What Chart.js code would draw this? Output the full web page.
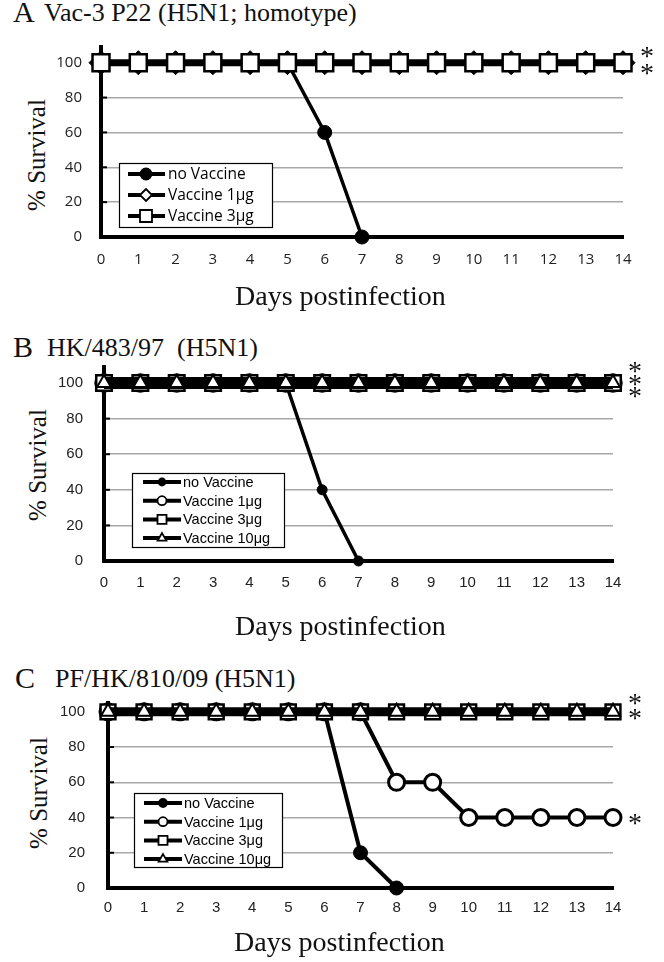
<!DOCTYPE html>
<html lang="en">
<head>
<meta charset="UTF-8">
<title>Survival after H5N1 challenge</title>
<script src="https://cdn.jsdelivr.net/npm/chart.js"></script>
<style>
  body { margin: 0; width: 664px; height: 962px; overflow: hidden; background: #fff; position: relative; }
  canvas { position: absolute; left: 0; }
  .txt { position: absolute; white-space: nowrap; font-family: "Liberation Serif", serif; line-height: 1; color: #111; }
  .ylab { position: absolute; white-space: nowrap; font-family: "Liberation Serif", serif; font-size: 25px; line-height: 1;
          transform: translate(-50%, -50%) rotate(-90deg); color: #111; }
</style>
</head>
<body>
  <!-- panel A -->
  <div class="txt" style="left:13px;top:-3px;font-size:30px">A</div>
  <div class="txt" style="left:44px;top:0px;font-size:26px">Vac-3 P22 (H5N1; homotype)</div>
  <div class="ylab" style="left:36px;top:155px">% Survival</div>
  <canvas id="chartA" width="664" height="322" style="top:0px"></canvas>
  <div class="txt" style="left:235px;top:282px;font-size:28px">Days postinfection</div>

  <!-- panel B -->
  <div class="txt" style="left:13px;top:332px;font-size:30px">B</div>
  <div class="txt" style="left:47px;top:335px;font-size:26px">HK/483/97&nbsp; (H5N1)</div>
  <div class="ylab" style="left:37px;top:465px">% Survival</div>
  <canvas id="chartB" width="664" height="322" style="top:320px"></canvas>
  <div class="txt" style="left:235px;top:612px;font-size:28px">Days postinfection</div>

  <!-- panel C -->
  <div class="txt" style="left:15px;top:663px;font-size:30px">C</div>
  <div class="txt" style="left:55px;top:666px;font-size:26px">PF/HK/810/09 (H5N1)</div>
  <div class="ylab" style="left:38px;top:793px">% Survival</div>
  <canvas id="chartC" width="664" height="322" style="top:640px"></canvas>
  <div class="txt" style="left:234px;top:928px;font-size:28px">Days postinfection</div>

<script>
// ---- data ----
const days = ['0','1','2','3','4','5','6','7','8','9','10','11','12','13','14'];

const seriesNamesA = ['no Vaccine', 'Vaccine 1μg', 'Vaccine 3μg'];
const survA_none = [100, 100, 100, 100, 100, 100, 60, 0, null, null, null, null, null, null, null];
const survA_1ug  = [100, 100, 100, 100, 100, 100, 100, 100, 100, 100, 100, 100, 100, 100, 100];
const survA_3ug  = [100, 100, 100, 100, 100, 100, 100, 100, 100, 100, 100, 100, 100, 100, 100];

const seriesNamesB = ['no Vaccine', 'Vaccine 1μg', 'Vaccine 3μg', 'Vaccine 10μg'];
const survB_none = [100, 100, 100, 100, 100, 100, 40, 0, null, null, null, null, null, null, null];
const survB_1ug  = [100, 100, 100, 100, 100, 100, 100, 100, 100, 100, 100, 100, 100, 100, 100];
const survB_3ug  = [100, 100, 100, 100, 100, 100, 100, 100, 100, 100, 100, 100, 100, 100, 100];
const survB_10ug = [100, 100, 100, 100, 100, 100, 100, 100, 100, 100, 100, 100, 100, 100, 100];

const seriesNamesC = ['no Vaccine', 'Vaccine 1μg', 'Vaccine 3μg', 'Vaccine 10μg'];
const survC_none = [100, 100, 100, 100, 100, 100, 100, 20, 0, null, null, null, null, null, null];
const survC_1ug  = [100, 100, 100, 100, 100, 100, 100, 100, 60, 60, 40, 40, 40, 40, 40];
const survC_3ug  = [100, 100, 100, 100, 100, 100, 100, 100, 100, 100, 100, 100, 100, 100, 100];
const survC_10ug = [100, 100, 100, 100, 100, 100, 100, 100, 100, 100, 100, 100, 100, 100, 100];

// significance marks: survival level they sit next to
const starsA = [100, 100];
const starsB = [100, 100, 100];
const starsC = [100, 100, 40];

// ---- drawing helpers ----
function drawMark(ctx, style, r, x, y, fill, lw) {
  ctx.beginPath();
  if (style === 'circle') {
    ctx.arc(x, y, r, 0, Math.PI * 2);
  } else if (style === 'rect') {
    ctx.rect(x - r, y - r, 2 * r, 2 * r);
  } else if (style === 'rectRot') {
    ctx.moveTo(x - r, y); ctx.lineTo(x, y - r); ctx.lineTo(x + r, y); ctx.lineTo(x, y + r); ctx.closePath();
  } else if (style === 'triangle') {
    ctx.moveTo(x, y - r); ctx.lineTo(x + r * 0.87, y + r * 0.5); ctx.lineTo(x - r * 0.87, y + r * 0.5); ctx.closePath();
  }
  ctx.fillStyle = fill;
  ctx.fill();
  ctx.lineWidth = lw;
  ctx.strokeStyle = '#000';
  ctx.stroke();
}

// inner tick marks, legend box and asterisks
const decoPlugin = {
  id: 'deco',
  beforeDatasetsDraw(chart) {
    const ctx = chart.ctx, area = chart.chartArea, ys = chart.scales.y;
    ctx.save();
    ctx.strokeStyle = '#000';
    ctx.lineWidth = 2;
    ys.ticks.forEach(t => {
      const py = ys.getPixelForValue(t.value);
      ctx.beginPath(); ctx.moveTo(area.left, py); ctx.lineTo(area.left + 6, py); ctx.stroke();
    });
    ctx.restore();
  },
  afterDatasetsDraw(chart, args, opts) {
    const ctx = chart.ctx, area = chart.chartArea, ys = chart.scales.y;
    ctx.save();

    const L = opts.legend;
    ctx.fillStyle = '#fff';
    ctx.fillRect(L.x, L.y, L.w, L.h);
    ctx.lineWidth = 1.2;
    ctx.strokeStyle = '#000';
    ctx.strokeRect(L.x + 0.5, L.y + 0.5, L.w, L.h);
    chart.data.datasets.forEach((ds, i) => {
      const cy = L.y + L.first + i * L.step;
      ctx.beginPath();
      ctx.moveTo(L.x + L.lineFrom, cy); ctx.lineTo(L.x + L.lineTo, cy);
      ctx.lineWidth = 4; ctx.strokeStyle = '#000'; ctx.stroke();
      drawMark(ctx, ds.legendStyle || ds.pointStyle, ds.legendR, L.x + L.markX, cy, ds.legendFill || ds.pointBackgroundColor, 1.8);
      ctx.fillStyle = '#000';
      ctx.font = L.font;
      ctx.textAlign = 'left';
      ctx.textBaseline = 'middle';
      ctx.fillText(ds.label, L.x + L.textX, cy + 1);
    });

    ctx.font = '28px "Liberation Serif"';
    const m = ctx.measureText('*');
    const shift = (m.actualBoundingBoxAscent - m.actualBoundingBoxDescent) / 2;
    ctx.textAlign = 'center';
    ctx.textBaseline = 'alphabetic';
    ctx.fillStyle = '#111';
    opts.stars.forEach((v, i) => {
      ctx.fillText('*', area.right + opts.starDx, ys.getPixelForValue(v) + opts.starDy[i] + shift);
    });
    ctx.restore();
  }
};

function makeChart(id, geo, datasets, deco) {
  return new Chart(document.getElementById(id), {
    type: 'line',
    data: { labels: days, datasets: datasets },
    options: {
      responsive: false,
      animation: false,
      devicePixelRatio: 1,
      layout: { padding: { top: geo.top, left: 0, right: 664 - geo.right, bottom: 322 - geo.bottom - 40 } },
      elements: { line: { tension: 0 } },
      plugins: { legend: { display: false }, tooltip: { enabled: false }, deco: deco },
      scales: {
        x: {
          type: 'category',
          offset: false,
          grid: { display: false, drawTicks: false },
          border: { color: '#000', width: 4 },
          ticks: { autoSkip: false, maxRotation: 0, padding: geo.xPad, color: '#222',
                   font: { family: geo.tickFont, size: 15 } },
          afterFit: s => { s.height = 40; }
        },
        y: {
          min: 0,
          max: geo.yMax,
          grid: {
            drawTicks: false,
            lineWidth: 1.5,
            color: c => (c.tick && (c.tick.value === 0 || c.tick.value === 100)) ? 'rgba(0,0,0,0)' : '#a8a8a8'
          },
          border: { color: '#000', width: 4 },
          ticks: { stepSize: 20, includeBounds: false, padding: geo.yPad, color: '#222',
                   font: { family: geo.tickFont, size: 15 } },
          afterFit: s => { s.width = geo.left; }
        }
      }
    },
    plugins: [decoPlugin]
  });
}

function ds(label, data, o) {
  return Object.assign({
    label: label, data: data, borderColor: '#000', pointBorderColor: '#000',
    clip: false, spanGaps: false
  }, o);
}

// ---- panel A ----
makeChart('chartA',
  { left: 101, right: 623, top: 47, bottom: 237, yMax: 109, xPad: 14, yPad: 19, tickFont: '"Open Sans", "Liberation Sans", sans-serif' },
  [
    ds(seriesNamesA[0], survA_none, { borderWidth: 3.5, pointStyle: 'circle', pointRadius: 7, pointBackgroundColor: '#000', pointBorderWidth: 1, order: 2, legendR: 5.5 }),
    ds(seriesNamesA[1], survA_1ug, { borderWidth: 7, pointStyle: 'rectRot', pointRadius: 12, pointBackgroundColor: '#000', pointBorderWidth: 1, order: 1,
                                     legendR: 6, legendFill: '#fff' }),
    ds(seriesNamesA[2], survA_3ug, { borderWidth: 4, pointStyle: 'rect', pointRadius: 12, pointBackgroundColor: '#fff', pointBorderWidth: 2.5, order: 0, legendR: 6 })
  ],
  {
    legend: { x: 119, y: 163, w: 153, h: 64, first: 11, step: 21, lineFrom: 9, lineTo: 46, markX: 27, textX: 49,
              font: '15.5px "Open Sans", "Liberation Sans", sans-serif' },
    stars: starsA, starDx: 24, starDy: [-3, 14]
  });

// ---- panel B ----
makeChart('chartB',
  { left: 104, right: 613, top: 47, bottom: 241, yMax: 109, xPad: 13, yPad: 21, tickFont: '"Liberation Sans", Arial, sans-serif' },
  [
    ds(seriesNamesB[0], survB_none, { borderWidth: 3.5, pointStyle: 'circle', pointRadius: 5, pointBackgroundColor: '#000', pointBorderWidth: 1, order: 3, legendR: 3.5 }),
    ds(seriesNamesB[1], survB_1ug, { borderWidth: 4, pointStyle: 'circle', pointRadius: 8.5, pointBackgroundColor: '#fff', pointBorderWidth: 2.5, order: 2, legendR: 4.5 }),
    ds(seriesNamesB[2], survB_3ug, { borderWidth: 6, pointStyle: 'rect', pointRadius: 11, pointBackgroundColor: '#fff', pointBorderWidth: 2.5, order: 1, legendR: 4.5 }),
    ds(seriesNamesB[3], survB_10ug, { borderWidth: 12, pointStyle: 'triangle', pointRadius: 8, pointBackgroundColor: '#fff', pointBorderWidth: 2, order: 0, legendR: 5 })
  ],
  {
    legend: { x: 132, y: 153, w: 152, h: 74, first: 9, step: 18.7, lineFrom: 11, lineTo: 49, markX: 30, textX: 51,
              font: '14.5px "Liberation Sans", Arial, sans-serif' },
    stars: starsB, starDx: 22, starDy: [-8, 5, 17]
  });

// ---- panel C ----
makeChart('chartC',
  { left: 108, right: 613, top: 63, bottom: 248, yMax: 105, xPad: 11, yPad: 23, tickFont: '"Liberation Sans", Arial, sans-serif' },
  [
    ds(seriesNamesC[0], survC_none, { borderWidth: 4, pointStyle: 'circle', pointRadius: 7, pointBackgroundColor: '#000', pointBorderWidth: 1, order: 3, legendR: 4 }),
    ds(seriesNamesC[1], survC_1ug, { borderWidth: 4, pointStyle: 'circle', pointRadius: 8, pointBackgroundColor: '#fff', pointBorderWidth: 3, order: 2, legendR: 4.5 }),
    ds(seriesNamesC[2], survC_3ug, { borderWidth: 5, pointStyle: 'rect', pointRadius: 10.5, pointBackgroundColor: '#fff', pointBorderWidth: 2.5, order: 1, legendR: 4.5 }),
    ds(seriesNamesC[3], survC_10ug, { borderWidth: 9, pointStyle: 'triangle', pointRadius: 8, pointBackgroundColor: '#fff', pointBorderWidth: 2, order: 0, legendR: 5 })
  ],
  {
    legend: { x: 134, y: 153, w: 148, h: 74, first: 10, step: 18.7, lineFrom: 10, lineTo: 48, markX: 29, textX: 50,
              font: '14.5px "Liberation Sans", Arial, sans-serif' },
    stars: starsC, starDx: 22, starDy: [-5, 10, 9]
  });
</script>
</body>
</html>
